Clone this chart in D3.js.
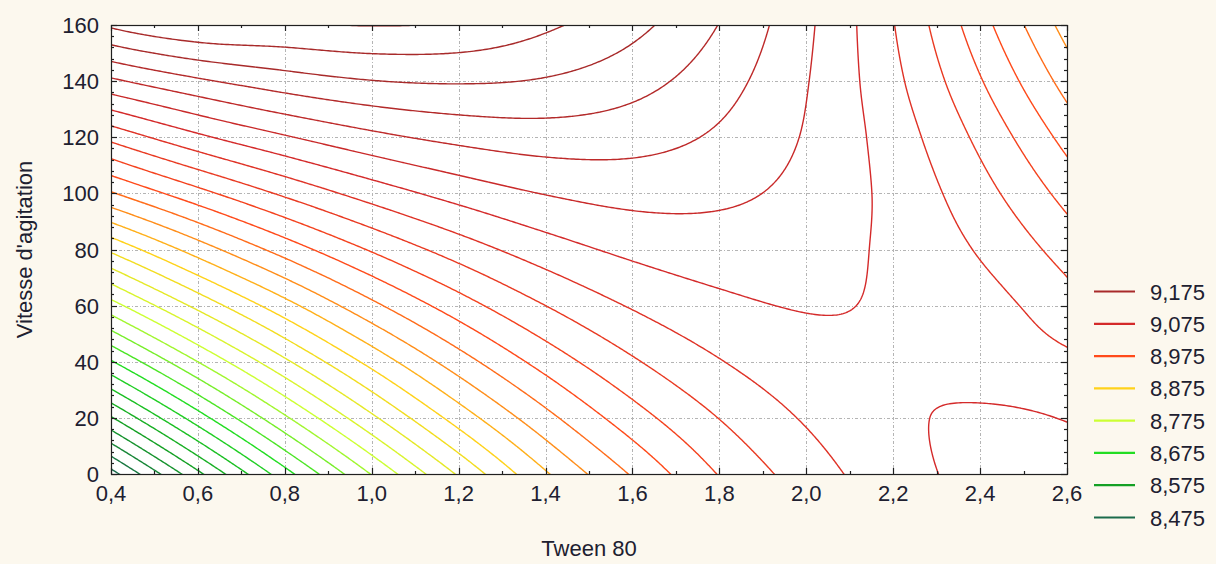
<!DOCTYPE html>
<html><head><meta charset="utf-8">
<script src="https://cdn.jsdelivr.net/npm/d3@7/dist/d3.min.js"></script>
<style>
html,body{margin:0;padding:0;background:#fcf8ee;}
svg{display:block;}
text{font-family:"Liberation Sans",Arial,sans-serif;fill:#202030;}
</style></head><body>
<svg id="chart" width="1216" height="564"></svg>
<script>
// ---- data ----
const tweenValues   = [0.4, 0.6, 0.8, 1.0, 1.2, 1.4, 1.6, 1.8, 2.0, 2.2, 2.4, 2.6];
const vitesseValues = [0, 20, 40, 60, 80, 100, 120, 140, 160];
// response estimated at each (Tween 80, Vitesse) node, one array per Vitesse row
const zAtV0   = [8.4650, 8.5688, 8.6650, 8.7513, 8.8280, 8.8970, 8.9525, 9.0013, 9.0370, 9.0645, 9.0820, 9.0875];
const zAtV20  = [8.5725, 8.6632, 8.7459, 8.8199, 8.8857, 8.9422, 8.9889, 9.0256, 9.0525, 9.0705, 9.0780, 9.0738];
const zAtV40  = [8.6725, 8.7501, 8.8202, 8.8830, 8.9383, 8.9848, 9.0218, 9.0487, 9.0657, 9.0724, 9.0650, 9.0550];
const zAtV60  = [8.7650, 8.8318, 8.8907, 8.9437, 8.9884, 9.0250, 9.0522, 9.0692, 9.0763, 9.0720, 9.0594, 9.0355];
const zAtV80  = [8.8550, 8.9116, 8.9606, 9.0026, 9.0368, 9.0634, 9.0808, 9.0878, 9.0850, 9.0700, 9.0476, 9.0145];
const zAtV100 = [8.9475, 8.9915, 9.0295, 9.0609, 9.0847, 9.1010, 9.1083, 9.1051, 9.0921, 9.0682, 9.0342, 8.9913];
const zAtV120 = [9.0323, 9.0697, 9.0974, 9.1184, 9.1317, 9.1378, 9.1346, 9.1211, 9.0977, 9.0634, 9.0191, 8.9663];
const zAtV140 = [9.1200, 9.1458, 9.1634, 9.1742, 9.1772, 9.1728, 9.1592, 9.1352, 9.1013, 9.0566, 9.0019, 8.9400];
const zAtV160 = [9.2043, 9.2245, 9.2225, 9.2258, 9.2220, 9.2043, 9.1825, 9.1493, 9.1050, 9.0510, 8.9850, 8.9150];
const zRows = [zAtV0, zAtV20, zAtV40, zAtV60, zAtV80, zAtV100, zAtV120, zAtV140, zAtV160];

const contourLevels = [8.475, 8.500, 8.525, 8.550, 8.575, 8.600, 8.625, 8.650, 8.675, 8.700,
                       8.725, 8.750, 8.775, 8.800, 8.825, 8.850, 8.875, 8.900, 8.925, 8.950,
                       8.975, 9.000, 9.025, 9.050, 9.075, 9.100, 9.125, 9.150, 9.175, 9.200, 9.225];
const legendLevels = [9.175, 9.075, 8.975, 8.875, 8.775, 8.675, 8.575, 8.475];
const legendLabels = ["9,175", "9,075", "8,975", "8,875", "8,775", "8,675", "8,575", "8,475"];
const xTickValues = [0.4, 0.6, 0.8, 1.0, 1.2, 1.4, 1.6, 1.8, 2.0, 2.2, 2.4, 2.6];
const xTickLabels = ["0,4", "0,6", "0,8", "1,0", "1,2", "1,4", "1,6", "1,8", "2,0", "2,2", "2,4", "2,6"];
const yTickValues = [0, 20, 40, 60, 80, 100, 120, 140, 160];
const yTickLabels = ["0", "20", "40", "60", "80", "100", "120", "140", "160"];
const xTitle = "Tween 80";
const yTitle = "Vitesse d'agitation";

// ---- style ----
const palette = ["#1b6b4b", "#14a024", "#22dd22", "#ccff33", "#ffd21a", "#ff4a1a", "#d42a2a", "#a82a2a"];
const paletteLevels = [8.475, 8.575, 8.675, 8.775, 8.875, 8.975, 9.075, 9.175];

const P = {left: 111, right: 1067, top: 25, bottom: 474};
const svg = d3.select("#chart");

const x = d3.scaleLinear().domain([0.4, 2.6]).range([P.left, P.right]);
const y = d3.scaleLinear().domain([0, 160]).range([P.bottom, P.top]);
const color = d3.scaleLinear().domain(paletteLevels).range(palette).clamp(true);

// plot background
svg.append("rect").attr("x", P.left).attr("y", P.top)
  .attr("width", P.right - P.left).attr("height", P.bottom - P.top).attr("fill", "#ffffff");

// grid
const grid = svg.append("g").attr("stroke", "#b4b4b4").attr("stroke-width", 1)
  .attr("stroke-dasharray", "3,2,1,2");
grid.selectAll("line.v").data(xTickValues.slice(1, -1)).join("line")
  .attr("x1", d => Math.round(x(d)) + 0.5).attr("x2", d => Math.round(x(d)) + 0.5)
  .attr("y1", P.top).attr("y2", P.bottom);
grid.selectAll("line.h").data(yTickValues.slice(1, -1)).join("line")
  .attr("y1", d => Math.round(y(d)) + 0.5).attr("y2", d => Math.round(y(d)) + 0.5)
  .attr("x1", P.left).attr("x2", P.right);

// ---- smooth rendering of the surface (Catmull-Rom through the node values) ----
const nX = tweenValues.length, nY = vitesseValues.length;
const gx0 = tweenValues[0], gdx = tweenValues[1] - tweenValues[0];
const gy0 = vitesseValues[0], gdy = vitesseValues[1] - vitesseValues[0];
function extend(arr) {
  const n = arr.length;
  return [3 * arr[0] - 3 * arr[1] + arr[2], ...arr, 3 * arr[n - 1] - 3 * arr[n - 2] + arr[n - 3]];
}
const rowsX = zRows.map(extend);
const ext = [];
for (let j = 0; j < nY + 2; j++) ext.push([]);
for (let i = 0; i < nX + 2; i++) {
  const col = extend(rowsX.map(r => r[i]));
  col.forEach((v, j) => ext[j][i] = v);
}
function cr(p0, p1, p2, p3, t) {
  return 0.5 * (2 * p1 + (-p0 + p2) * t + (2 * p0 - 5 * p1 + 4 * p2 - p3) * t * t + (-p0 + 3 * p1 - 3 * p2 + p3) * t * t * t);
}
function surface(xv, yv) {
  const u = (xv - gx0) / gdx, v = (yv - gy0) / gdy;
  const i = Math.max(0, Math.min(nX - 2, Math.floor(u)));
  const j = Math.max(0, Math.min(nY - 2, Math.floor(v)));
  const t = u - i, s = v - j;
  const r = [];
  for (let k = -1; k <= 2; k++) {
    const row = ext[j + k + 1];
    r.push(cr(row[i], row[i + 1], row[i + 2], row[i + 3], t));
  }
  return cr(r[0], r[1], r[2], r[3], s);
}
const sx = 0.005, sy = 0.5, pad = 3;
const fx0 = 0.4 - pad * sx, fy0 = 0 - pad * sy;
const NX = Math.round(2.2 / sx) + 1 + 2 * pad;
const NY = Math.round(160 / sy) + 1 + 2 * pad;
const values = new Float64Array(NX * NY);
for (let r = 0; r < NY; r++) {
  const yv = fy0 + r * sy;
  for (let c = 0; c < NX; c++) values[r * NX + c] = surface(fx0 + c * sx, yv);
}
const contours = d3.contours().size([NX, NY]).thresholds(contourLevels)(values);
const proj = d3.geoTransform({
  point(px, py) { this.stream.point(x(fx0 + (px - 0.5) * sx), y(fy0 + (py - 0.5) * sy)); }
});
const path = d3.geoPath(proj);

svg.append("clipPath").attr("id", "plotclip").append("rect")
  .attr("x", P.left).attr("y", P.top).attr("width", P.right - P.left).attr("height", P.bottom - P.top);
svg.append("g").attr("clip-path", "url(#plotclip)")
  .selectAll("path").data(contours).join("path")
  .attr("d", path).attr("fill", "none")
  .attr("stroke", d => color(d.value)).attr("stroke-width", 1.4)
  .attr("stroke-linejoin", "round");

// frame
svg.append("rect").attr("x", P.left + 0.5).attr("y", P.top + 0.5)
  .attr("width", P.right - P.left).attr("height", P.bottom - P.top)
  .attr("fill", "none").attr("stroke", "#202020").attr("stroke-width", 1.2);

// ticks (inside, on all four sides)
const ticks = svg.append("g").attr("stroke", "#202020").attr("stroke-width", 1.2);
const xMinor = d3.range(0, 23).map(k => 0.4 + k * 0.1);
xMinor.forEach((v, k) => {
  const L = k % 2 === 0 ? 6 : 3, px = Math.round(x(v)) + 0.5;
  ticks.append("line").attr("x1", px).attr("x2", px).attr("y1", P.bottom).attr("y2", P.bottom - L);
  ticks.append("line").attr("x1", px).attr("x2", px).attr("y1", P.top).attr("y2", P.top + L);
});
const yMinor = d3.range(0, 41).map(k => k * 4);
yMinor.forEach((v, k) => {
  const L = k % 5 === 0 ? 6 : 3, py = Math.round(y(v)) + 0.5;
  ticks.append("line").attr("y1", py).attr("y2", py).attr("x1", P.left).attr("x2", P.left + L);
  ticks.append("line").attr("y1", py).attr("y2", py).attr("x1", P.right).attr("x2", P.right - L);
});

// tick labels
svg.append("g").selectAll("text").data(xTickValues).join("text")
  .attr("x", d => x(d)).attr("y", 501).attr("text-anchor", "middle")
  .attr("font-size", 22).text((d, i) => xTickLabels[i]);
svg.append("g").selectAll("text").data(yTickValues).join("text")
  .attr("x", 99).attr("y", d => y(d) + 8).attr("text-anchor", "end")
  .attr("font-size", 22).text((d, i) => yTickLabels[i]);

// axis titles
svg.append("text").attr("x", (P.left + P.right) / 2).attr("y", 556)
  .attr("text-anchor", "middle").attr("font-size", 22).text(xTitle);
svg.append("text").attr("transform", `translate(32,${(P.top + P.bottom) / 2}) rotate(-90)`)
  .attr("text-anchor", "middle").attr("font-size", 22).text(yTitle);

// legend
const leg = svg.append("g");
const legY = d3.scaleLinear().domain([0, legendLevels.length - 1]).range([291.5, 517.5]);
legendLevels.forEach((lv, i) => {
  leg.append("line").attr("x1", 1094).attr("x2", 1135).attr("y1", legY(i)).attr("y2", legY(i))
    .attr("stroke", color(lv)).attr("stroke-width", 2.2);
  leg.append("text").attr("x", 1150).attr("y", legY(i) + 8).attr("font-size", 22).text(legendLabels[i]);
});
</script>
</body></html>
